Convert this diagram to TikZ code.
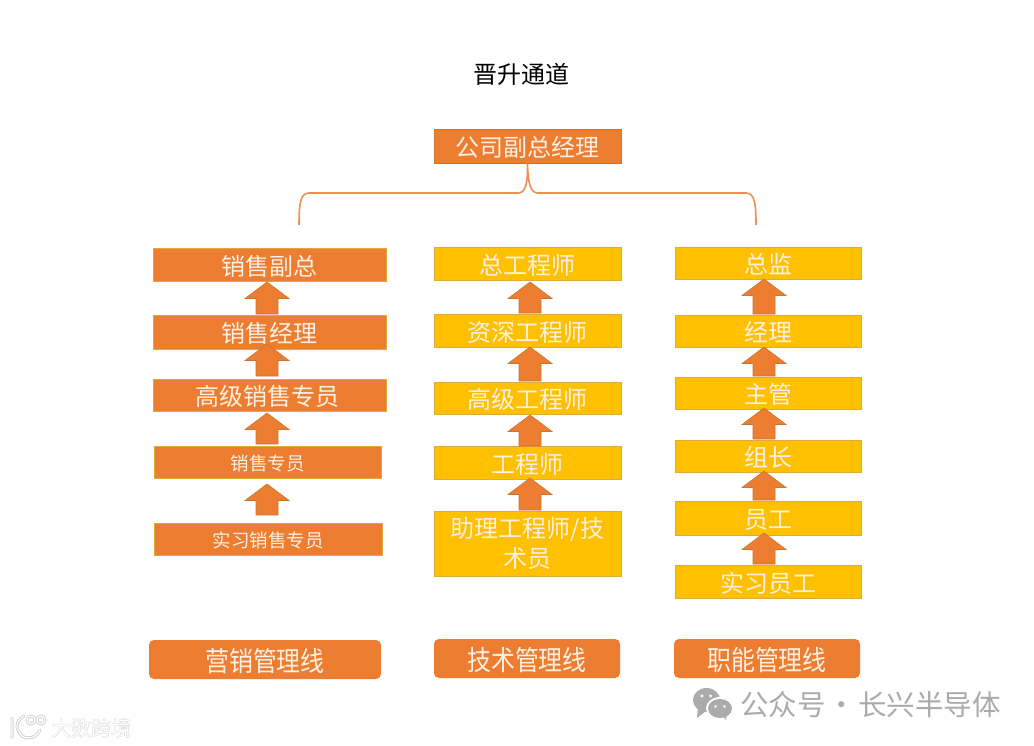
\documentclass[tikz,border=0pt]{standalone}
\usepackage{fontspec}
\setmainfont{Noto Sans CJK SC}
\newfontfamily\tagf[FakeStretch=0.87]{Noto Sans CJK SC}
\newfontfamily\wmbold[FakeBold=2.2,FakeStretch=0.95]{Noto Sans CJK SC}
\newfontfamily\wmthin[FakeStretch=0.95]{Noto Sans CJK SC}
\definecolor{oran}{HTML}{ED7D31}
\definecolor{gold}{HTML}{FFC000}
\definecolor{edgeg}{HTML}{E0A93A}
\definecolor{arrowe}{HTML}{C9772F}
\definecolor{wm}{HTML}{ABABAB}
\definecolor{wmhalo}{HTML}{CFCFCF}
\definecolor{cream}{HTML}{FDF0E2}
\newcommand{\fs}[1]{\fontsize{#1pt}{#1pt}\selectfont}
\tikzset{
  x=1pt,y=-1pt,
  boxbase/.style={inner sep=0pt,align=center,text=cream,font=\fs{24}},
  obox/.style={boxbase,draw=edgeg,line width=0.8pt,fill=oran},
  gbox/.style={boxbase,draw=edgeg,line width=0.8pt,fill=gold},
  topbox/.style={boxbase,draw=arrowe,line width=0.8pt,fill=oran},
  tagbox/.style={boxbase,fill=oran,rounded corners=5pt,font=\tagf\fs{27.5}},
  smalltxt/.style={font=\fs{18.5}},
  uparrow/.style={draw=arrowe,line width=0.6pt,fill=oran,line join=miter},
  brace/.style={draw=oran!85!white,line width=1.6pt},
  wmark/.style={text=wm,inner sep=0pt}
}
\newcommand{\rbox}[7]{\node[#1,minimum width=#4-#3,minimum height=#6-#5] (#2) at ({(#3+#4)/2},{(#5+#6)/2}) {\raisebox{-1.5pt}[\height][\depth]{#7}};}
% name, x, tip y, base y
\newcommand{\upa}[4]{\coordinate (#1) at (#2,#3);
  \draw[uparrow] (#1) -- ++(22,16.5) -- ++(-11,0) -- (#2+11,#4) -- (#2-11,#4) -- (#2-11,#3+16.5) -- (#2-22,#3+16.5) -- cycle;}
\begin{document}
\begin{tikzpicture}
\useasboundingbox (0,0) rectangle (1034,746);
\fill[white] (0,0) rectangle (1034,746);
\node[font=\fs{24},text=black,inner sep=0pt] (title) at (521,74) {晋升通道};
\rbox{topbox}{vp}{434}{621}{129}{163}{公司副总经理}
% brace
\coordinate (bl) at (299,225);
\coordinate (br) at (756,225);
\draw[brace] (bl) .. controls (299,205) and (300,193) .. (309,193) -- (518,193)
  .. controls (525,193) and (528,185) .. (vp.south)
  .. controls (528,185) and (531,193) .. (538,193) -- (746,193)
  .. controls (755,193) and (756,205) .. (br);
% column 1
\rbox{obox}{m1}{153}{386}{248}{281}{销售副总}
\rbox{obox}{m2}{153}{386}{315}{349}{销售经理}
\rbox{obox}{m3}{153}{386}{379}{411}{\hspace*{-4pt}高级销售专员}
\rbox{obox,smalltxt}{m4}{154}{381}{446}{478}{销售专员}
\rbox{obox,smalltxt}{m5}{154}{382}{523}{555}{实习销售专员}
% column 2
\rbox{gbox}{t1}{434}{621}{247}{280}{总工程师}
\rbox{gbox}{t2}{434}{621}{314}{347}{资深工程师}
\rbox{gbox}{t3}{434}{621}{382}{414}{高级工程师}
\rbox{gbox}{t4}{434}{621}{446}{479}{工程师}
\rbox{gbox}{t5}{434}{621}{511}{576}{\raisebox{-1pt}[\height][\depth]{\begin{tabular}{@{}c@{}}助理工程师/技\\[2pt]术员\end{tabular}}}
% column 3
\rbox{gbox}{f1}{675}{861}{247}{279}{总监}
\rbox{gbox}{f2}{675}{861}{315}{347}{经理}
\rbox{gbox}{f3}{675}{861}{377}{409}{主管}
\rbox{gbox}{f4}{675}{861}{440}{472}{组长}
\rbox{gbox}{f5}{675}{861}{501}{535}{员工}
\rbox{gbox}{f6}{675}{861}{565}{598}{实习员工}
% arrows
\upa{a1}{267}{282}{314}
\upa{a2}{267}{344}{376}
\upa{a3}{267}{413}{444}
\upa{a4}{267}{484}{515}
\upa{b1}{530}{282}{313}
\upa{b2}{530}{347}{381}
\upa{b3}{530}{415}{446}
\upa{b4}{530}{478}{510}
\upa{c1}{764}{279}{314}
\upa{c2}{764}{347}{376}
\upa{c3}{764}{408}{439}
\upa{c4}{764}{471}{500}
\upa{c5}{764}{533}{564}
% tags
\rbox{tagbox}{l1}{149}{381}{640}{679}{营销管理线}
\rbox{tagbox}{l2}{434}{620}{639}{678}{技术管理线}
\rbox{tagbox}{l3}{674}{860}{639}{678}{职能管理线}
% watermark: account
\fill[wm] (706.5,700) ellipse (13.5pt and 12pt);
\fill[wm] (698,708) -- (697,718) -- (706,711) -- cycle;
\fill[white] (720,708.5) ellipse (14pt and 11.5pt);
\fill[wm] (720,708.5) ellipse (12pt and 9.5pt);
\fill[wm] (722,715) -- (726,720) -- (727,712) -- cycle;
\fill[white] (702,696) circle (1.6pt) (710.5,696) circle (1.6pt) (715.5,706.5) circle (1.4pt) (724.5,706.5) circle (1.4pt);
\node[wmark,font=\fs{28.5},anchor=west] (acct) at (740,705) {公众号\hspace{2pt}·\hspace{2pt}长兴半导体};
% watermark: logo
\begin{scope}[line cap=round]
\draw[wmhalo,line width=3pt] (12,718) -- (12,737) (24,716) .. controls (15,722) and (15,728) .. (22,736) .. controls (28,740) and (36,738) .. (40,730);
\draw[wmhalo,line width=3pt] (31,720) circle (4pt) (41,720) circle (4pt);
\draw[white,line width=1.2pt] (12,718) -- (12,737) (24,716) .. controls (15,722) and (15,728) .. (22,736) .. controls (28,740) and (36,738) .. (40,730);
\draw[white,line width=1.2pt] (31,720) circle (4pt) (41,720) circle (4pt);
\end{scope}
\node[text=wmhalo,inner sep=0pt,font=\wmbold\fs{21},anchor=west] (wm2h) at (51,728) {大数跨境};
\node[text=white,inner sep=0pt,font=\wmthin\fs{21},anchor=west] (wm2) at (51,728) {大数跨境};
\end{tikzpicture}
\end{document}
